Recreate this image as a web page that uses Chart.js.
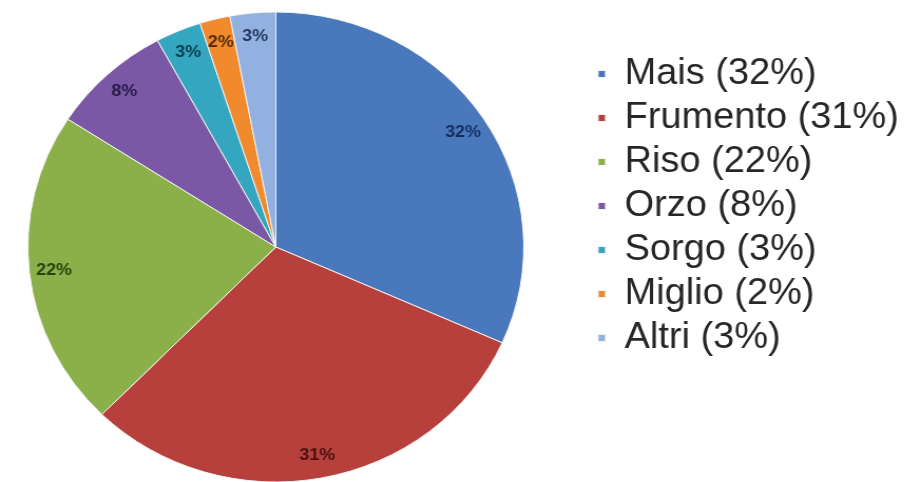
<!DOCTYPE html>
<html>
<head>
<meta charset="utf-8">
<script src="https://cdn.jsdelivr.net/npm/chart.js@4.4.1/dist/chart.umd.min.js"></script>
<style>
  html, body { margin: 0; padding: 0; background: #fff; overflow: hidden; }
  #wrap { width: 905px; height: 482px; margin-left: -36px; transform: scaleX(1.055); transform-origin: 36px 0; }
</style>
</head>
<body>
<div id="wrap"><canvas id="chart" width="905" height="482"></canvas></div>
<script>
const categories = ['Mais', 'Frumento', 'Riso', 'Orzo', 'Sorgo', 'Miglio', 'Altri'];
const shares = [32, 31, 22, 8, 3, 2, 3];
const sliceColors = ['#4a78bd', '#b7403d', '#8bb04a', '#7a58a6', '#35a6c0', '#f08a2c', '#92b0e0'];
const labelColors = ['#16305e', '#4a1210', '#2c4010', '#2a1a46', '#0c3c4c', '#5a2c04', '#243a60'];

// percent labels inside the slices, near the rim
const sliceLabels = {
  id: 'sliceLabels',
  afterDatasetsDraw(chart) {
    const ctx = chart.ctx;
    const meta = chart.getDatasetMeta(0);
    ctx.save();
    ctx.font = 'bold 17px "Liberation Sans", Arial, sans-serif';
    ctx.textAlign = 'center';
    ctx.textBaseline = 'middle';
    meta.data.forEach((arc, i) => {
      const p = arc.getProps(['x', 'y', 'startAngle', 'endAngle', 'outerRadius'], true);
      const mid = (p.startAngle + p.endAngle) / 2;
      const r = p.outerRadius * 0.9;
      ctx.fillStyle = labelColors[i];
      ctx.fillText(shares[i] + '%', p.x + Math.cos(mid) * r, p.y + Math.sin(mid) * r);
    });
    ctx.restore();
  }
};

new Chart(document.getElementById('chart'), {
  type: 'pie',
  data: {
    labels: categories.map((c, i) => `${c} (${shares[i]}%)`),
    datasets: [{
      data: shares,
      backgroundColor: sliceColors,
      borderColor: '#f4f4f4',
      borderWidth: 1,
      radius: 235
    }]
  },
  options: {
    responsive: false,
    animation: false,
    layout: { padding: { left: 0, right: 7, top: 12, bottom: 0 } },
    plugins: {
      tooltip: { enabled: false },
      legend: {
        position: 'right',
        align: 'start',
        title: { display: true, text: '', padding: { top: 24, bottom: 0 }, font: { size: 10 } },
        labels: {
          boxWidth: 7,
          boxHeight: 7,
          padding: 8,
          color: '#262626',
          font: { size: 36, family: '"Liberation Sans", Arial, sans-serif' }
        }
      }
    }
  },
  plugins: [sliceLabels]
});
</script>
</body>
</html>
